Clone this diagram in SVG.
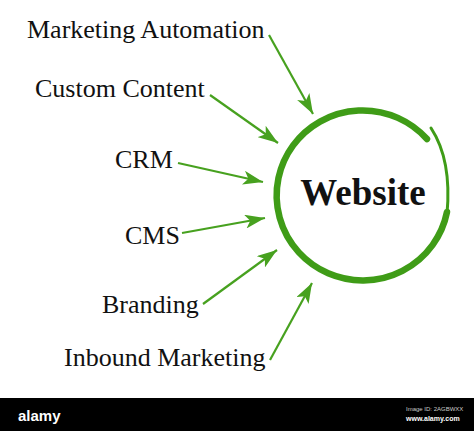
<svg xmlns="http://www.w3.org/2000/svg" width="474" height="431" viewBox="0 0 474 431">
<style>
.lbl{font-family:"Liberation Serif","Times New Roman",serif;font-size:26px;fill:#111}
.arr{stroke:#47a11f;stroke-width:2.2;fill:none;marker-end:url(#ah)}
</style>
<defs>
<marker id="ah" markerUnits="userSpaceOnUse" markerWidth="21" markerHeight="14" refX="20" refY="7" orient="auto">
<path d="M0,0 L20,7 L0,14 L5,7 Z" fill="#47a11f"/>
</marker>
</defs>
<rect width="474" height="431" fill="#fff"/>
<g id="connectors">
<line class="arr" x1="269" y1="35" x2="313" y2="114"/>
<line class="arr" x1="210" y1="95" x2="278" y2="143"/>
<line class="arr" x1="178" y1="163" x2="263" y2="182"/>
<line class="arr" x1="182" y1="233" x2="265" y2="218"/>
<line class="arr" x1="203" y1="304" x2="277" y2="250"/>
<line class="arr" x1="270" y1="360" x2="312" y2="283"/>
</g>
<g id="website">
<path d="M427,139 A86,85 0 1 0 447,212" fill="none" stroke="#3f9c17" stroke-width="6.5" stroke-linecap="round"/>
<path d="M431,128 Q452,160 447,214" fill="none" stroke="#3f9c17" stroke-width="3" stroke-linecap="round"/>
<text x="363" y="205" text-anchor="middle" font-family="Liberation Serif, serif" font-size="37" font-weight="bold" fill="#111">Website</text>
</g>
<g id="n1"><text class="lbl" x="27" y="38">Marketing Automation</text></g>
<g id="n2"><text class="lbl" x="35" y="97">Custom Content</text></g>
<g id="n3"><text class="lbl" x="115" y="168">CRM</text></g>
<g id="n4"><text class="lbl" x="125" y="244">CMS</text></g>
<g id="n5"><text class="lbl" x="102" y="313">Branding</text></g>
<g id="n6"><text class="lbl" x="64" y="366">Inbound Marketing</text></g>
<g id="footer">
<rect x="0" y="398" width="474" height="33" fill="#000"/>
<text x="18" y="421" font-family="Liberation Sans, sans-serif" font-size="15" font-weight="bold" fill="#fff">alamy</text>
<text x="406" y="411" font-family="Liberation Sans, sans-serif" font-size="6" fill="#ccc">Image ID: 2AGBWXX</text>
<text x="406" y="421" font-family="Liberation Sans, sans-serif" font-size="7" font-weight="bold" fill="#fff">www.alamy.com</text>
</g>
</svg>
